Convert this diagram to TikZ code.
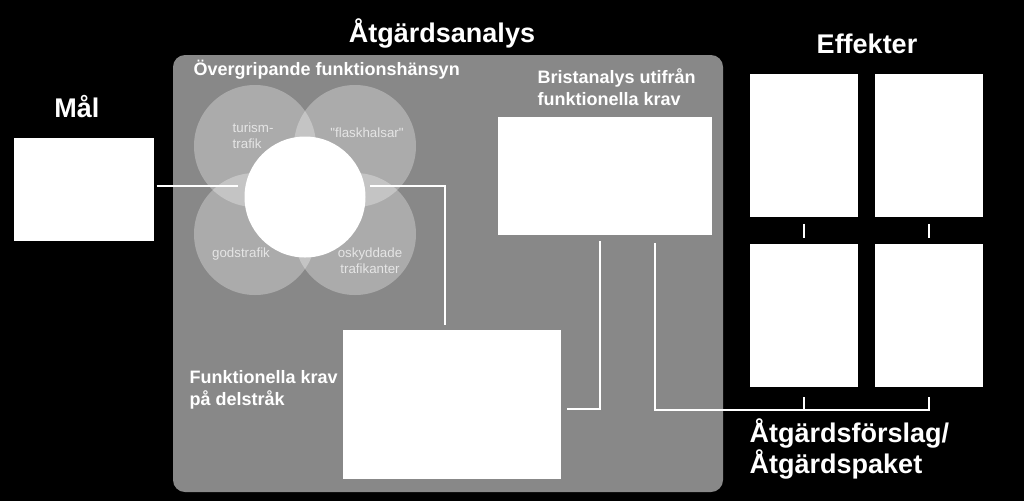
\documentclass[tikz,border=0pt]{standalone}
\usepackage{fontspec}
\setmainfont{Liberation Sans}[Ligatures=TeXOff]
\definecolor{panel}{HTML}{888888}
\begin{document}
\begin{tikzpicture}[x=0.75pt,y=-0.75pt,
  box/.style={fill=white,inner sep=0pt},
  ring/.style={circle,fill=white,fill opacity=0.3,inner sep=0pt,minimum size=91.5pt},
  head/.style={text=white,font=\bfseries\fontsize{20.25}{23.25}\selectfont,align=left},
  sub/.style={text=white,font=\bfseries\fontsize{13.5}{16.5}\selectfont,align=left},
  tag/.style={text=white!90!black,font=\fontsize{10}{12}\selectfont},
  link/.style={white,line width=1.5pt}]
\fill[black] (0,0) rectangle (1024,501);
\fill[panel,rounded corners=9pt] (173,55) rectangle (723,492);
% venn
\node[ring] (turism) at (255,146) {};
\node[ring] (flask) at (355,146) {};
\node[ring] (gods) at (255,234) {};
\node[ring] (oskydd) at (355,234) {};
\node[circle,fill=white,inner sep=0pt,minimum size=90.75pt] (hub) at (305,197) {};
\node[tag,anchor=base west,align=left] (turismtxt) at (228,148) {turism-\\trafik};
\node[tag,anchor=base] (flasktxt) at (367,137) {"flaskhalsar"};
\node[tag,anchor=base] (godstxt) at (241,257) {godstrafik};
\node[tag,anchor=base,align=center] (oskyddtxt) at (370,273) {oskyddade\\trafikanter};
% headings
\node[head,anchor=base] (title) at (442,42) {Åtgärdsanalys};
\node[head,anchor=base] (maltxt) at (77,117) {Mål};
\node[head,anchor=base] (effekttxt) at (867,53) {Effekter};
\node[head,anchor=base west] (forslagtxt) at (745,473) {Åtgärdsförslag/\\Åtgärdspaket};
\node[sub,anchor=base west] (overtxt) at (189,75) {Övergripande funktionshänsyn};
\node[sub,anchor=base west] (bristtxt) at (533,105) {Bristanalys utifrån\\funktionella krav};
\node[sub,anchor=base west] (kravtxt) at (185,405) {Funktionella krav\\på delstråk};
% boxes
\node[box,minimum width=105.4pt,minimum height=77.25pt] (mal) at (84,189.5) {};
\node[box,minimum width=160.5pt,minimum height=88.5pt] (brist) at (605,176) {};
\node[box,minimum width=163.5pt,minimum height=111.75pt] (krav) at (452,404.5) {};
\node[box,minimum width=81pt,minimum height=107.25pt] (e1) at (804,145.5) {};
\node[box,minimum width=81pt,minimum height=107.25pt] (e2) at (929,145.5) {};
\node[box,minimum width=81pt,minimum height=107.25pt] (e3) at (804,315.5) {};
\node[box,minimum width=81pt,minimum height=107.25pt] (e4) at (929,315.5) {};
% connectors
\coordinate (hubL) at (238,186);
\coordinate (hubR) at (370,186);
\coordinate (join) at (929,410);
\draw[link] ([xshift=1.5pt]mal.east |- hubL) -- (hubL);
\draw[link] (hubR) -| ([xshift=-5.25pt,yshift=3.75pt]krav.north);
\draw[link] ([xshift=-3.75pt,yshift=-4.5pt]brist.south) |- ([xshift=4.5pt,yshift=-3.4pt]krav.east);
\draw[link] ([xshift=37.5pt,yshift=-6pt]brist.south) |- (join) -- ([yshift=-7.5pt]e4.south);
\draw[link] ([yshift=-7.5pt]e3.south) -- (e3.south |- join);
\draw[link] ([yshift=-5pt]e1.south) -- ([yshift=4pt]e3.north);
\draw[link] ([yshift=-5pt]e2.south) -- ([yshift=4pt]e4.north);
\end{tikzpicture}
\end{document}
